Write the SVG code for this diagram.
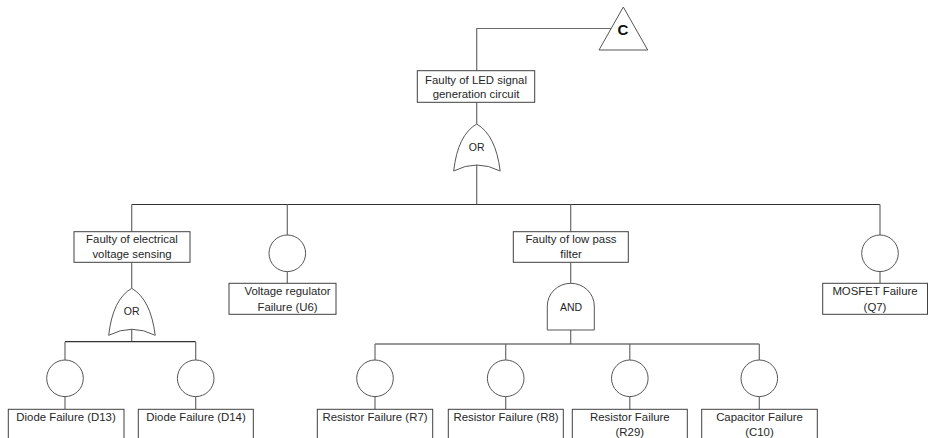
<svg xmlns="http://www.w3.org/2000/svg" width="928" height="438" viewBox="0 0 928 438">
<style>
.bx{fill:#fff;stroke:#404040;stroke-width:1}
.ev{fill:#fff;stroke:#555;stroke-width:1}
.gt{fill:#fff;stroke:#555;stroke-width:1}
.cn{fill:none;stroke:#6a6a6a;stroke-width:1.2}
.cb{fill:none;stroke:#333;stroke-width:1.2}
text{font-family:"Liberation Sans",Arial,sans-serif;font-size:11.4px;fill:#262626;text-anchor:middle;dominant-baseline:central}
.g{font-size:10.5px}
.c{font-size:15px;font-weight:bold;fill:#111}
</style>
<defs>
<path id="org" d="M0,0 Q19,11 23.5,47 Q0,35 -23,47 Q-19,11 0,0 Z"/>
</defs>
<rect width="928" height="438" fill="#fff"/>
<g id="connectors">
<polyline class="cn" points="612,28.5 476.7,28.5 476.7,70.7"/>
<line class="cn" x1="476.7" y1="102.3" x2="476.7" y2="124"/>
<line class="cn" x1="476.7" y1="165" x2="476.7" y2="204.5"/>
<line class="cb" x1="131.7" y1="204.5" x2="880" y2="204.5"/>
<line class="cn" x1="131.7" y1="204.5" x2="131.7" y2="231.7"/>
<line class="cn" x1="287.3" y1="204.5" x2="287.3" y2="235"/>
<line class="cn" x1="570.7" y1="204.5" x2="570.7" y2="231.7"/>
<line class="cn" x1="880" y1="204.5" x2="880" y2="235"/>
<line class="cn" x1="287.3" y1="271.6" x2="287.3" y2="283.3"/>
<line class="cn" x1="880" y1="271.6" x2="880" y2="283.3"/>
<line class="cn" x1="131.7" y1="262.3" x2="131.7" y2="288.3"/>
<line class="cn" x1="131.7" y1="329.3" x2="131.7" y2="341.7"/>
<line class="cb" x1="65" y1="341.7" x2="195.7" y2="341.7"/>
<line class="cn" x1="65" y1="341.7" x2="65" y2="360"/>
<line class="cn" x1="195.7" y1="341.7" x2="195.7" y2="360"/>
<line class="cn" x1="65" y1="396.6" x2="65" y2="409.3"/>
<line class="cn" x1="195.7" y1="396.6" x2="195.7" y2="409.3"/>
<line class="cn" x1="570.7" y1="262.3" x2="570.7" y2="283.3"/>
<line class="cn" x1="570.7" y1="330" x2="570.7" y2="344"/>
<line class="cb" x1="375" y1="344" x2="759.3" y2="344"/>
<line class="cn" x1="375" y1="344" x2="375" y2="360"/>
<line class="cn" x1="505.7" y1="344" x2="505.7" y2="360"/>
<line class="cn" x1="629.8" y1="344" x2="629.8" y2="360"/>
<line class="cn" x1="759.3" y1="344" x2="759.3" y2="360"/>
<line class="cn" x1="375" y1="396.6" x2="375" y2="409.3"/>
<line class="cn" x1="505.7" y1="396.6" x2="505.7" y2="409.3"/>
<line class="cn" x1="629.8" y1="396.6" x2="629.8" y2="409.3"/>
<line class="cn" x1="759.3" y1="396.6" x2="759.3" y2="409.3"/>
</g>
<g id="transfer-C">
<polygon class="gt" points="623.3,7 647.7,50 599,50"/>
<text class="c" x="623" y="29.5">C</text>
</g>
<g id="top-event">
<rect class="bx" x="417.3" y="70.7" width="117.4" height="31.6"/>
<text x="476" y="80">Faulty of LED signal</text>
<text x="476" y="94">generation circuit</text>
</g>
<g id="or-top">
<use href="#org" class="gt" x="476.7" y="124"/>
<text class="g" x="476.7" y="147">OR</text>
</g>
<g id="electrical-voltage">
<rect class="bx" x="74" y="231.7" width="116" height="30.6"/>
<text x="132" y="239">Faulty of electrical</text>
<text x="132" y="253.5">voltage sensing</text>
</g>
<g id="or-left">
<use href="#org" class="gt" x="131.7" y="288.3"/>
<text class="g" x="131.7" y="311">OR</text>
</g>
<g id="d13">
<circle class="ev" cx="65" cy="378.3" r="18.3"/>
<rect class="bx" x="8.3" y="409.3" width="115.7" height="40"/>
<text x="66" y="417">Diode Failure (D13)</text>
</g>
<g id="d14">
<circle class="ev" cx="195.7" cy="378.3" r="18.3"/>
<rect class="bx" x="138.3" y="409.3" width="115" height="40"/>
<text x="196" y="417">Diode Failure (D14)</text>
</g>
<g id="u6">
<circle class="ev" cx="287.3" cy="253.3" r="18.3"/>
<rect class="bx" x="229" y="283.3" width="107" height="31"/>
<text x="287.5" y="291">Voltage regulator</text>
<text x="287.5" y="307">Failure (U6)</text>
</g>
<g id="low-pass">
<rect class="bx" x="513.3" y="231.7" width="115" height="30.6"/>
<text x="571" y="239">Faulty of low pass</text>
<text x="571" y="253.5">filter</text>
</g>
<g id="and-gate">
<path class="gt" d="M547.3,330 L547.3,306 A23.5,22.7 0 0 1 594.3,306 L594.3,330 Z"/>
<text class="g" x="571" y="306.5">AND</text>
</g>
<g id="r7">
<circle class="ev" cx="375" cy="378.3" r="18.3"/>
<rect class="bx" x="317.3" y="409.3" width="115.4" height="40"/>
<text x="375" y="417">Resistor Failure (R7)</text>
</g>
<g id="r8">
<circle class="ev" cx="505.7" cy="378.3" r="18.3"/>
<rect class="bx" x="448.3" y="409.3" width="115" height="40"/>
<text x="506" y="417">Resistor Failure (R8)</text>
</g>
<g id="r29">
<circle class="ev" cx="629.8" cy="378.3" r="18.3"/>
<rect class="bx" x="572.3" y="409.3" width="115" height="40"/>
<text x="629.8" y="416.5">Resistor Failure</text>
<text x="629.8" y="431.5">(R29)</text>
</g>
<g id="c10">
<circle class="ev" cx="759.3" cy="378.3" r="18.3"/>
<rect class="bx" x="701.7" y="409.3" width="115.6" height="40"/>
<text x="759.5" y="416.5">Capacitor Failure</text>
<text x="759.5" y="431.5">(C10)</text>
</g>
<g id="q7">
<circle class="ev" cx="880" cy="253.3" r="18.3"/>
<rect class="bx" x="822.7" y="283.3" width="104.8" height="31"/>
<text x="875" y="291">MOSFET Failure</text>
<text x="875" y="307">(Q7)</text>
</g>
</svg>
